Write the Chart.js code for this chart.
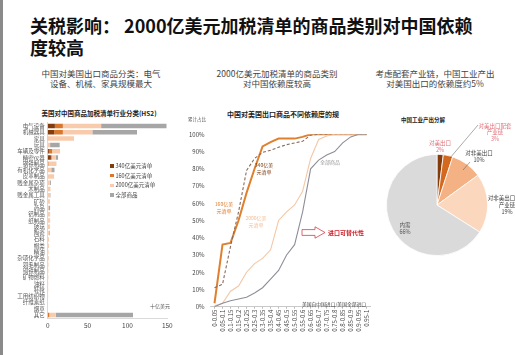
<!DOCTYPE html>
<html>
<head>
<meta charset="utf-8">
<script src="https://cdn.jsdelivr.net/npm/chart.js@4.4.0/dist/chart.umd.min.js"></script>
<style>
  html, body { margin:0; padding:0; background:#fff; }
  body { width:515px; height:355px; position:relative; overflow:hidden; font-family:"Noto Sans CJK SC","Noto Sans",sans-serif; }
  .abs { position:absolute; }
  .t { position:absolute; white-space:nowrap; transform:translate(-50%,-50%); text-align:center; }
  .tl { position:absolute; white-space:nowrap; }
  canvas { position:absolute; }
</style>
</head>
<body>
<script>
// ---------- DATA ----------
// Left chart: US tariff lists on Chinese goods by HS2 sector (十亿美元)
const sectorCategories = ['电气设备','机械器具','家具','玩具','车辆及零件','精密仪器','钢铁制品','有机化学品','皮革制品','贱金属杂项','木制品','贱金属工具','矿砂','药品','铝制品','纸制品','玻璃','陶瓷','石料','帽类','精油','杂项化学品','羽毛制品','铜铁制品','矿物燃料','油籽','鞋靴','工用纺织物','纤维素纸','烟草','其它'];
const list340 = [9, 8, 0, 0, 1.5, 4, 0, 0, 0, 0, 0, 0, 0, 0, 0, 0, 0, 0, 0, 0, 0, 0, 0, 0, 0, 0, 0, 0, 0, 0, 0];
const list160 = [10, 11, 0.5, 0, 4, 1, 1, 0.5, 0, 0, 0, 0, 0, 0, 0, 0, 0, 0, 0, 0, 0, 0, 0, 0, 0, 0, 0, 0, 0, 0, 2];
const list2000 = [48, 37, 32.5, 3, 10, 5, 10, 4, 8, 2.5, 3.5, 3, 2, 1, 2.5, 2.5, 2, 1.5, 1.5, 1.5, 1, 1, 1, 0.8, 0.8, 0.6, 0.6, 0.5, 0.4, 0.3, 8];
const listRest = [82, 56, 0, 12, 0, 3, 0, 4, 0, 1.5, 0, 0.5, 0.5, 2, 0.5, 0.5, 0.5, 1, 0, 0, 0, 0.3, 0, 0, 0, 0, 0, 0, 0, 0, 97];
const sectorTicks = [0, 50, 100, 150];

// Middle chart: cumulative share by dependency ratio (%)
const ratioCategories = ['0-0.05','0.05-0.1','0.1-0.15','0.15-0.2','0.2-0.25','0.25-0.3','0.3-0.35','0.35-0.4','0.4-0.45','0.45-0.5','0.5-0.55','0.55-0.6','0.6-0.65','0.65-0.7','0.7-0.75','0.75-0.8','0.8-0.85','0.85-0.9','0.9-0.95','0.95-1'];
const cum160 = [2, 36, 37, 50, 66, 80, 93, 95.5, 97.5, 97.5, 97.5, 98.5, 100, 100, 100, 100, 100, 100, 100, 100];
const cum340 = [11, 13, 35, 55, 79, 86, 89.5, 90.8, 92.5, 94, 95, 96, 99.5, 100, 100, 100, 100, 100, 100, 100];
const cum2000 = [0.5, 2, 9, 12, 20, 25, 28, 33, 50, 55, 59, 67, 86, 97, 99, 100, 100, 100, 100, 100];
const cumAll = [0, 2, 3.5, 4.5, 5.5, 8, 11, 16, 21, 30, 36, 55, 80, 85, 88, 90, 95, 98.5, 100, 100];
const pctTicks = [0, 10, 20, 30, 40, 50, 60, 70, 80, 90, 100];

// Right chart: China industrial output decomposition (%)
const outputLabels = ['对美出口','对美出口配套产业链','对非美出口','对非美出口配套产业链','内需'];
const outputShares = [2, 3, 10, 19, 66];
</script>

<div class="abs" style="left:0;top:0;width:3px;height:355px;background:#8a8a8a;"></div>

<!-- main title -->
<div class="tl" style="left:30px;top:14px;font-size:18px;line-height:22px;font-weight:bold;color:#111;">关税影响： 2000亿美元加税清单的商品类别对中国依赖<br>度较高</div>

<!-- subtitles -->
<div class="t" style="left:101px;top:77.5px;font-size:8.5px;line-height:10px;color:#444;">中国对美国出口商品分类：电气<br>设备、机械、家具规模最大</div>
<div class="t" style="left:277px;top:77.5px;font-size:8.5px;line-height:10px;color:#444;">2000亿美元加税清单的商品类别<br>对中国依赖度较高</div>
<div class="t" style="left:435px;top:77.5px;font-size:8.5px;line-height:10px;color:#444;">考虑配套产业链，中国工业产出<br>对美国出口的依赖度约5%</div>

<!-- chart titles -->
<div class="t" style="left:99px;top:113px;font-size:6.5px;font-weight:bold;color:#222;">美国对中国商品加税清单行业分类(HS2)</div>
<div class="t" style="left:283px;top:114px;font-size:7px;font-weight:bold;color:#222;">中国对美国出口商品不同依赖度的规</div>
<div class="t" style="left:423px;top:120px;font-size:5.5px;font-weight:bold;color:#222;">中国工业产出分解</div>

<canvas id="c1" width="180" height="230" style="left:0;top:105px;"></canvas>
<canvas id="c2" width="200" height="250" style="left:175px;top:105px;"></canvas>
<canvas id="c3" width="102" height="102" style="left:386px;top:154px;"></canvas>

<!-- left legend -->
<div id="leg1"></div>
<div class="t" style="left:160px;top:305px;font-size:5px;color:#555;">十亿美元</div>

<!-- middle annotations -->
<div class="t" style="left:197px;top:119px;font-size:4.5px;color:#555;">累计占比</div>
<div class="t" style="left:264px;top:167.5px;font-size:5px;line-height:7px;color:#7a3b12;">340亿美<br>元清单</div>
<div class="t" style="left:224px;top:206.5px;font-size:5px;line-height:7px;color:#E07B2A;">160亿美<br>元清单</div>
<div class="t" style="left:256px;top:220.5px;font-size:5px;line-height:7px;color:#F2C09A;">2000亿美<br>元清单</div>
<div class="t" style="left:330px;top:161px;font-size:5px;color:#999;">全部商品</div>
<svg class="abs" style="left:0;top:0;" width="515" height="355">
  <polygon points="302,229.6 315,229.6 315,226.8 325,232.5 315,238.2 315,235.4 302,235.4" fill="#fff" stroke="#D8404A" stroke-width="0.8"/>
  <line x1="450" y1="158" x2="478" y2="125" stroke="#555" stroke-width="0.5"/>
  <line x1="463" y1="170" x2="470" y2="162" stroke="#555" stroke-width="0.5"/>
</svg>
<div class="tl" style="left:328px;top:228.5px;font-size:6px;line-height:8px;font-weight:bold;color:#D0202A;">进口可替代性</div>
<div class="t" style="left:334px;top:302.5px;font-size:4.8px;color:#444;">美国自中国进口/美国全部进口</div>

<!-- pie labels -->
<div class="t" style="left:440px;top:146px;font-size:5.5px;line-height:6.5px;color:#E0707A;">对美出口<br>2%</div>
<div class="t" style="left:495px;top:132.5px;font-size:5.5px;line-height:6.7px;color:#E0707A;">对美出口配套<br>产业链<br>3%</div>
<div class="t" style="left:479px;top:156px;font-size:5.5px;line-height:6.5px;color:#444;">对非美出口<br>10%</div>
<div class="t" style="left:507px;top:204.5px;font-size:5.5px;line-height:7px;color:#444;">对非美出口配套<br>产业链<br>19%</div>
<div class="t" style="left:405px;top:229px;font-size:5.5px;line-height:7px;color:#555;">内需<br>66%</div>

<script>
Chart.defaults.font.family = '"Noto Sans CJK SC","Noto Sans",sans-serif';
Chart.defaults.color = '#333';

const cBrown = '#843C0C', cOrange = '#D9782D', cPeach = '#F8CBAD', cGray = '#A6A6A6';

// legend (left chart)
const legItems = [['340亿美元清单', cBrown], ['160亿美元清单', cOrange], ['2000亿美元清单', cPeach], ['全部商品', cGray]];
const leg = document.getElementById('leg1');
legItems.forEach((it, i) => {
  const y = 166 + i * 9.7;
  leg.insertAdjacentHTML('beforeend',
    `<div class="abs" style="left:110px;top:${y - 1.75}px;width:3.5px;height:3.5px;background:${it[1]};"></div>` +
    `<div class="tl" style="left:115.5px;top:${y - 4}px;font-size:5.5px;line-height:8px;color:#444;">${it[0]}</div>`);
});

// ---------- LEFT: horizontal stacked bars ----------
new Chart(document.getElementById('c1'), {
  type: 'bar',
  data: {
    labels: sectorCategories,
    datasets: [
      { label: '340亿美元清单', data: list340, backgroundColor: cBrown },
      { label: '160亿美元清单', data: list160, backgroundColor: cOrange },
      { label: '2000亿美元清单', data: list2000, backgroundColor: cPeach },
      { label: '全部商品', data: listRest, backgroundColor: cGray }
    ]
  },
  options: {
    indexAxis: 'y',
    responsive: false, animation: false, devicePixelRatio: 1,
    layout: { padding: { top: 17.85, right: 12.7, left: 0, bottom: 0 } },
    datasets: { bar: { barPercentage: 0.72, categoryPercentage: 1 } },
    plugins: { legend: { display: false }, tooltip: { enabled: false } },
    scales: {
      x: {
        stacked: true, min: 0, max: 150,
        afterBuildTicks: s => { s.ticks = sectorTicks.map(v => ({ value: v })); },
        afterFit: s => { s.height = 16.85; },
        grid: { display: false, drawTicks: false },
        border: { display: true, color: '#d0d0d0', width: 0.8 },
        ticks: { font: { size: 6.5 }, color: '#444', padding: 3 }
      },
      y: {
        stacked: true,
        afterFit: s => { s.width = 47.7; },
        grid: { display: false, drawTicks: false },
        border: { display: true, color: '#d0d0d0', width: 0.8 },
        ticks: { autoSkip: false, font: { size: 5.5 }, color: '#555', padding: 3 }
      }
    }
  }
});

// ---------- MIDDLE: cumulative lines ----------
new Chart(document.getElementById('c2'), {
  type: 'line',
  data: {
    labels: ratioCategories,
    datasets: [
      { label: '全部商品', data: cumAll, borderColor: '#8E8E99', borderWidth: 1.1, pointRadius: 0, tension: 0 },
      { label: '2000亿美元清单', data: cum2000, borderColor: '#F4C7A5', borderWidth: 1.1, pointRadius: 0, tension: 0 },
      { label: '340亿美元清单', data: cum340, borderColor: '#8A6A5A', borderWidth: 1.1, borderDash: [3, 2], pointRadius: 0, tension: 0 },
      { label: '160亿美元清单', data: cum160, borderColor: '#E0802E', borderWidth: 2, pointRadius: 0, tension: 0 }
    ]
  },
  options: {
    responsive: false, animation: false, devicePixelRatio: 1,
    layout: { padding: { top: 29.3, right: 3.5, left: 0, bottom: 0 } },
    plugins: { legend: { display: false }, tooltip: { enabled: false } },
    scales: {
      x: {
        offset: true,
        afterFit: s => { s.height = 48.3; },
        grid: { display: true, drawOnChartArea: false, drawTicks: true, tickLength: 2, color: '#bbb' },
        border: { display: true, color: '#bbb', width: 0.8 },
        ticks: { autoSkip: false, maxRotation: 90, minRotation: 90, font: { size: 6 }, color: '#444', padding: 1 }
      },
      y: {
        min: 0, max: 100,
        afterBuildTicks: s => { s.ticks = pctTicks.map(v => ({ value: v })); },
        afterFit: s => { s.width = 35.5; },
        grid: { display: false, drawTicks: false },
        border: { display: false },
        ticks: { font: { size: 6 }, color: '#444', padding: 6, callback: v => v + '%' }
      }
    }
  }
});

// ---------- RIGHT: pie ----------
new Chart(document.getElementById('c3'), {
  type: 'pie',
  data: {
    labels: outputLabels,
    datasets: [{
      data: outputShares,
      backgroundColor: ['#843C0C', '#D2691E', '#F4B183', '#FAD7BD', '#DADADA'],
      borderColor: '#fff', borderWidth: 0.8
    }]
  },
  options: {
    responsive: false, animation: false, devicePixelRatio: 1,
    layout: { padding: 0 },
    plugins: { legend: { display: false }, tooltip: { enabled: false } }
  }
});
</script>
</body>
</html>
